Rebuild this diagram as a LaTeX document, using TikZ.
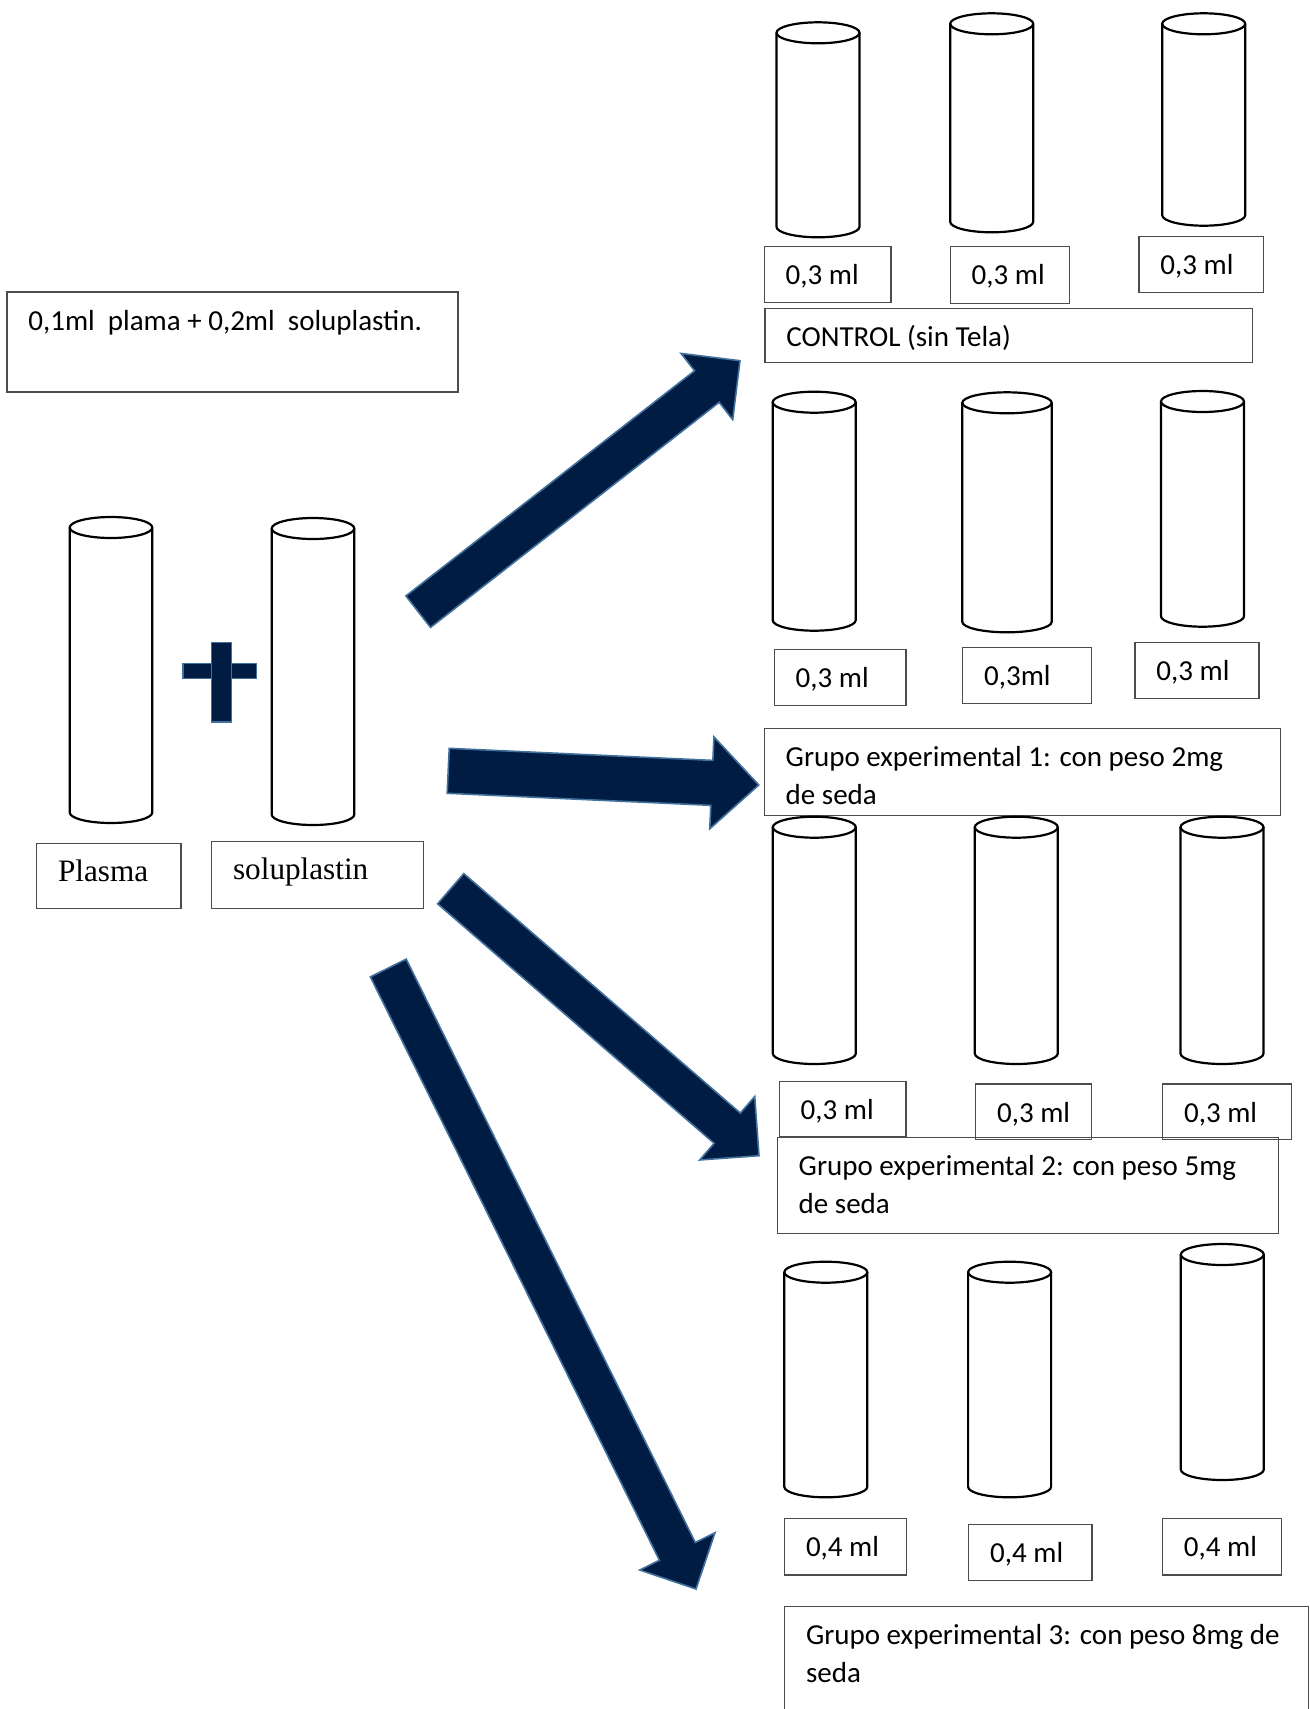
\documentclass[tikz,border=0pt]{standalone}
\usepackage{fontspec}
\setmainfont{Carlito}
\newfontfamily\timesfont{Liberation Serif}
\usepackage{xcolor}
\usepackage{tikz}
\usetikzlibrary{calc}

\definecolor{navy}{RGB}{0,28,66}
\definecolor{steel}{RGB}{65,113,156}

\tikzset{
  tube/.style={draw=black, line width=1.1pt},
  boxline/.style={draw=black!70, line width=0.65pt},
  txt/.style={inner sep=0pt, font=\fontsize{14.5}{19}\selectfont},
  serif/.style={inner sep=0pt, font=\timesfont\fontsize{15.6}{19}\selectfont},
  bigarrow/.style={fill=navy, draw=steel, line width=0.8pt, line join=miter},
}

% test tube: [half width] centre x, y of top rim, y of bottom (pixel units)
\newcommand{\testtube}[4][41.5]{%
  \pgfmathsetmacro{\rxpt}{#1*0.5}
  \draw[tube] (#2-#1,#3) -- (#2-#1,#4)
    arc[start angle=180, end angle=360, x radius=\rxpt pt, y radius=5.25pt] -- (#2+#1,#3);
  \draw[tube] (#2,#3) ellipse[x radius=\rxpt pt, y radius=5.25pt];
}

% framed label: [style] name, left, top, right, bottom, text
\newcommand{\volbox}[7][txt]{%
  \draw[boxline] (#3,#4) rectangle (#5,#6);
  \node[#1, anchor=base west] (#2) at (#3+21,#4+38) {#7};
}

% block arrow: tail, tip, shaft half width, head half width, head length
\newcommand{\blockarrow}[5]{%
  \path ($(#2)!#5!(#1)$) coordinate (neck);
  \draw[bigarrow] ($(#1)!#3!90:(#2)$) -- ($(neck)!#3!90:(#2)$) -- ($(neck)!#4!90:(#2)$)
    -- (#2) -- ($(neck)!#4!-90:(#2)$) -- ($(neck)!#3!-90:(#2)$) -- ($(#1)!#3!-90:(#2)$) -- cycle;
}

\newcommand{\twolines}[2]{\begin{tabular}[t]{@{}l@{}}#1\\#2\end{tabular}}

\begin{document}
\begin{tikzpicture}[x=0.5pt, y=-0.5pt]
  \useasboundingbox (0,0) rectangle (1310,1709);

  % -- the mixture on the left -------------------------------------------
  \volbox{mix}{7}{292}{458}{392}{0,1ml~~plama + 0,2ml~~soluplastin.}
  \testtube[41.3]{111}{527.5}{812.5}
  \testtube[41.3]{313}{528.5}{814.5}
  \volbox[serif]{plasma}{36.7}{843.3}{181}{908.3}{Plasma}
  \volbox[serif]{solu}{211.7}{841.7}{423.3}{908.3}{soluplastin}
  \draw[bigarrow] (183,663.5) rectangle (256.5,678.5);
  \draw[bigarrow] (211.5,642.5) rectangle (231.5,722);

  % -- control -------------------------------------------------------------
  \testtube{818}{32.8}{226.8}
  \testtube{991.7}{23.8}{221.8}
  \testtube{1203.7}{23.8}{215.2}
  \volbox{a1}{764.3}{246.7}{891}{302.3}{0,3 ml}
  \volbox{a2}{950.3}{246.7}{1069.3}{303.3}{0,3 ml}
  \volbox{a3}{1139}{236.7}{1263.3}{292.3}{0,3 ml}
  \volbox{control}{765}{308.3}{1252.7}{362.3}{CONTROL (sin Tela)}

  % -- group 1 -------------------------------------------------------------
  \testtube{814.2}{402.2}{620.2}
  \testtube[44.7]{1007}{402.8}{621.8}
  \testtube{1202.5}{401.5}{616.2}
  \volbox{b1}{774.3}{649.3}{906}{705.7}{0,3 ml}
  \volbox{b2}{962.7}{647.3}{1091.7}{703.3}{0,3ml}
  \volbox{b3}{1135}{642.7}{1259}{698.7}{0,3 ml}
  \volbox{grupo1}{764.3}{728.3}{1280.6}{815.7}{\twolines{Grupo experimental 1: con peso 2mg}{de seda}}

  % -- group 2 -------------------------------------------------------------
  \testtube{814.3}{827.2}{1053.5}
  \testtube{1016.3}{827.2}{1053.5}
  \testtube{1222}{827.2}{1053.5}
  \volbox{grupo2}{777.3}{1137.3}{1278.3}{1233.3}{\twolines{Grupo experimental 2: con peso 5mg}{de seda}}
  \volbox{c1}{779.3}{1081.7}{906}{1136.7}{0,3 ml}
  \volbox{c2}{975.7}{1084}{1091.7}{1139.3}{0,3 ml}
  \volbox{c3}{1162.7}{1084}{1291.6}{1139.3}{0,3 ml}

  % -- group 3 -------------------------------------------------------------
  \testtube{825.8}{1272.2}{1486.8}
  \testtube{1009.6}{1272.2}{1486.8}
  \testtube{1222.3}{1254.5}{1469.5}
  \volbox{d1}{784.6}{1518.3}{906.3}{1575}{0,4 ml}
  \volbox{d2}{968.8}{1524.3}{1091.9}{1580.7}{0,4 ml}
  \volbox{d3}{1162.5}{1518.3}{1281.8}{1575}{0,4 ml}
  \volbox{grupo3}{784.6}{1606.7}{1308.4}{1716}{\twolines{Grupo experimental 3: con peso 8mg de}{seda}}

  % -- arrows to the groups -----------------------------------------------
  \coordinate (tail1) at (418.2,611.7);  \coordinate (tip1) at (740,360.7);
  \coordinate (tail2) at (448.2,770.8);  \coordinate (tip2) at (758.8,785);
  \coordinate (tail3) at (450.7,888.7);  \coordinate (tip3) at (759,1155.7);
  \coordinate (tail4) at (388.3,968);    \coordinate (tip4) at (696,1589);
  \blockarrow{tail1}{tip1}{10pt}{21pt}{21pt}
  \blockarrow{tail2}{tip2}{11.25pt}{23pt}{23.5pt}
  \blockarrow{tail3}{tip3}{10pt}{21pt}{21pt}
  \blockarrow{tail4}{tip4}{10pt}{21pt}{21pt}

\end{tikzpicture}
\end{document}
